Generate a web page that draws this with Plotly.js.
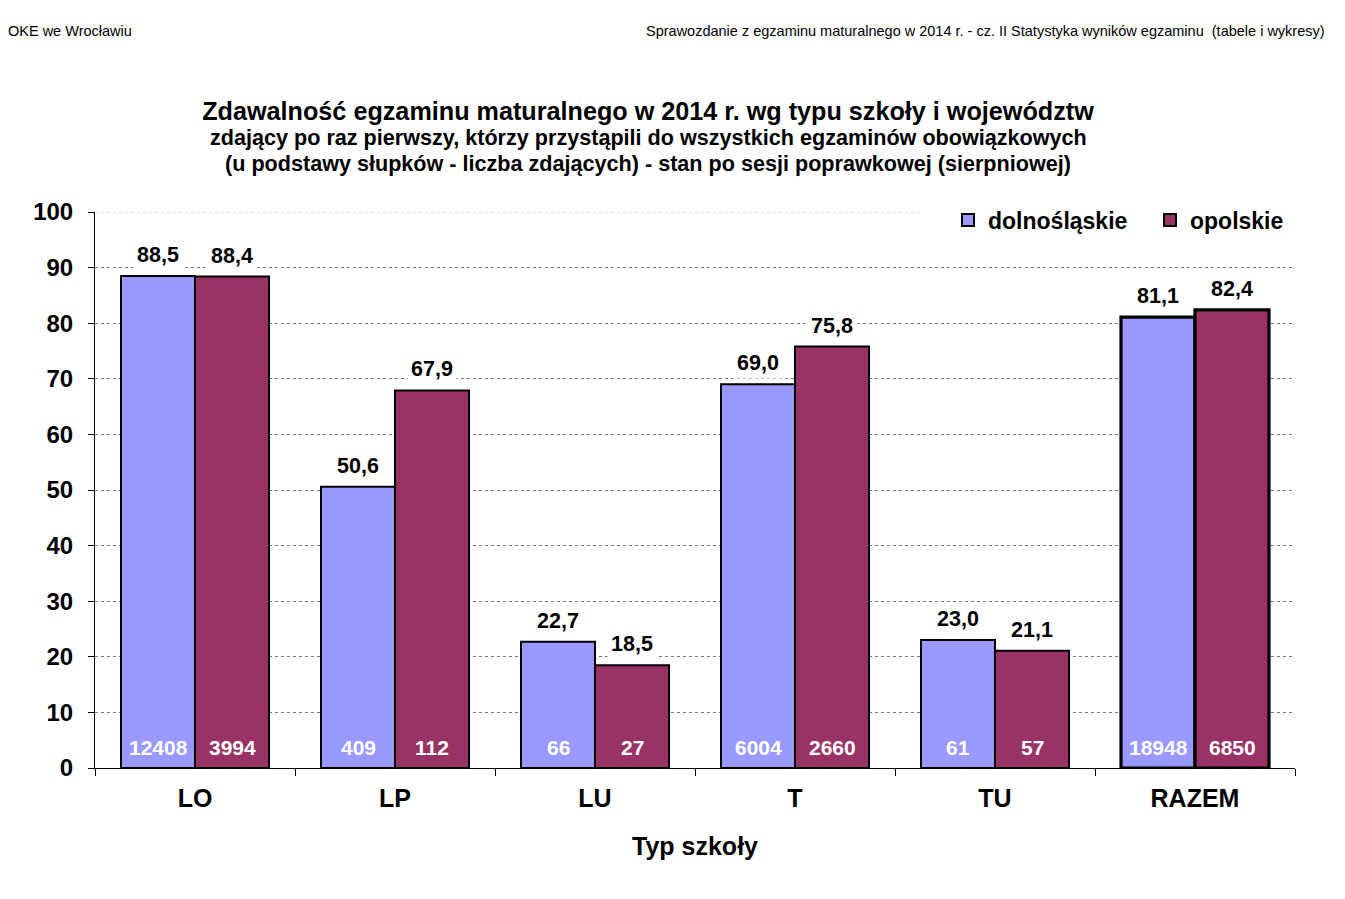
<!DOCTYPE html>
<html><head><meta charset="utf-8">
<script src="https://cdn.plot.ly/plotly-3.0.1.min.js"></script>
<style>html,body{margin:0;padding:0;background:#fff}#chart{width:1345px;height:899px}</style>
</head><body><div id="chart"></div>
<script>
const categories = ['LO','LP','LU','T','TU','RAZEM'];
const seriesNames = ['dolnośląskie','opolskie'];
const passRateDol = [88.5, 50.6, 22.7, 69.0, 23.0, 81.1];
const passRateOpo = [88.4, 67.9, 18.5, 75.8, 21.1, 82.4];
const countDol = [12408, 409, 66, 6004, 61, 18948];
const countOpo = [3994, 112, 27, 2660, 57, 6850];
const colors = ['#9999FF', '#993366'];
const titleText = 'Zdawalność egzaminu maturalnego w 2014 r. wg typu szkoły i województw';
const subtitleLines = ['zdający po raz pierwszy, którzy przystąpili do wszystkich egzaminów obowiązkowych',
  '(u podstawy słupków - liczba zdających) - stan po sesji poprawkowej (sierpniowej)'];
const headerLeft = 'OKE we Wrocławiu';
const headerRight = 'Sprawozdanie z egzaminu maturalnego w 2014 r. - cz. II Statystyka wyników egzaminu  (tabele i wykresy)';

const FONT = '"Liberation Sans", Arial, sans-serif';
const fmt = v => v.toFixed(1).replace('.', ',');
const lineW = categories.map(c => c === 'RAZEM' ? 3.2 : 2);

const traces = [
  {type:'bar', name:seriesNames[0], x:categories, y:passRateDol,
   marker:{color:colors[0], line:{color:'#000', width:lineW}}, hoverinfo:'none'},
  {type:'bar', name:seriesNames[1], x:categories, y:passRateOpo,
   marker:{color:colors[1], line:{color:'#000', width:lineW}}, hoverinfo:'none'}
];

const py = px => (768 - px) / 556;
const pxX = px => (px - 95) / 1200;

const annotations = [];
const series = [[passRateDol, countDol, -37], [passRateOpo, countOpo, 37]];
series.forEach(([vals, cnts, sh]) => {
  categories.forEach((c, i) => {
    annotations.push({x:c, y:vals[i], xref:'x', yref:'y', xshift:sh, yshift:5,
      yanchor:'bottom', showarrow:false, text:fmt(vals[i]), bgcolor:'#fff', borderpad:3,
      font:{family:FONT, size:21.5, color:'#000', weight:'bold'}});
    annotations.push({x:c, y:0, xref:'x', yref:'y', xshift:sh, yshift:7,
      yanchor:'bottom', showarrow:false, text:String(cnts[i]),
      font:{family:FONT, size:21, color:'#fff', weight:'bold'}});
  });
});
annotations.push({xref:'paper', yref:'paper', x:pxX(6), y:py(31), xanchor:'left', yanchor:'middle',
  showarrow:false, text:headerLeft, font:{family:FONT, size:14.5, color:'#000'}});
annotations.push({xref:'paper', yref:'paper', x:pxX(1327), y:py(31), xanchor:'right', yanchor:'middle',
  showarrow:false, text:headerRight, font:{family:FONT, size:14.5, color:'#000'}});
[138, 163].forEach((yy, k) => {
  annotations.push({xref:'paper', yref:'paper', x:pxX(648), y:py(yy), xanchor:'center', yanchor:'middle',
    showarrow:false, text:subtitleLines[k], font:{family:FONT, size:21.6, color:'#000', weight:'bold'}});
});

const layout = {
  width:1345, height:899,
  margin:{l:95, r:50, t:212, b:131, autoexpand:false},
  paper_bgcolor:'#fff', plot_bgcolor:'#fff',
  font:{family:FONT, color:'#000'},
  title:{text:titleText,
    font:{family:FONT, size:25.2, color:'#000', weight:'bold'},
    xref:'container', yref:'container', x:648/1345, xanchor:'center', y:1-111/899, yanchor:'middle'},
  barmode:'group', bargap:0.26, bargroupgap:0,
  showlegend:true,
  legend:{orientation:'h', x:pxX(948), y:py(220), xanchor:'left', yanchor:'middle',
    entrywidth:157, entrywidthmode:'pixels',
    bgcolor:'#fff', font:{family:FONT, size:23, color:'#000', weight:'bold'}, traceorder:'normal'},
  xaxis:{type:'category', showline:true, linecolor:'#000', linewidth:1, ticks:'outside', tickson:'boundaries',
    ticklen:7, tickcolor:'#000', showgrid:false, ticklabelstandoff:8, automargin:false,
    tickfont:{family:FONT, size:25, color:'#000', weight:'bold'},
    title:{text:'Typ szkoły', font:{family:FONT, size:25, color:'#000', weight:'bold'}, standoff:26}},
  yaxis:{range:[0,100], dtick:10, showline:true, linecolor:'#000', linewidth:1, ticks:'outside', ticklen:6,
    tickcolor:'#000', showgrid:true, gridcolor:'#777', griddash:'dot', gridwidth:1, zeroline:false, automargin:false,
    ticklabelstandoff:10, tickfont:{family:FONT, size:24, color:'#000', weight:'bold'}},
  shapes:[{type:'line', xref:'paper', yref:'y', x0:0, x1:pxX(920), y0:100, y1:100,
    line:{color:'#c8c8c8', width:1, dash:'dot'}, layer:'below'}],
  annotations:annotations
};
Plotly.newPlot('chart', traces, layout, {staticPlot:true});
</script></body></html>
